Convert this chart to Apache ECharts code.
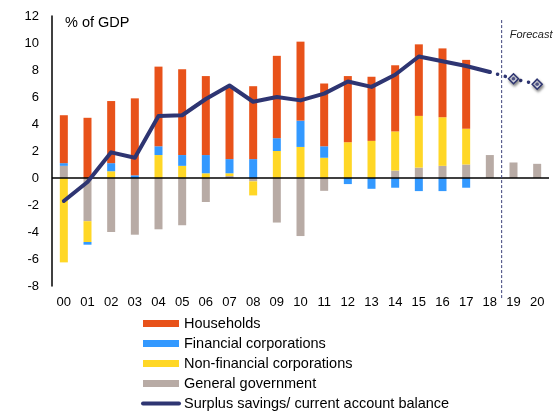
<!DOCTYPE html>
<html>
<head>
<meta charset="utf-8">
<script src="https://cdn.jsdelivr.net/npm/echarts@6/dist/echarts.min.js"></script>
<style>html,body{margin:0;padding:0;background:#fff}#c{width:554px;height:412px}</style>
</head>
<body>
<div id="c"></div>
<script>
var categories = ['00','01','02','03','04','05','06','07','08','09','10','11','12','13','14','15','16','17','18','19','20'];
var yTicks = {min: -8, max: 12, interval: 2};
var generalGovernment = [0.9, -3.2, -4.0, -4.2, -3.8, -3.5, -1.78, 0.15, -0.25, -3.3, -4.3, -0.95, 0, 0, 0.55, 0.77, 0.9, 1.0, 1.7, 1.15, 1.05];
var nonFinancial = [-6.25, -1.54, 0.5, 0, 1.7, 0.9, 0.35, 0.2, -1.04, 2.0, 2.3, 1.5, 2.65, 2.75, 2.9, 3.83, 3.6, 2.65, 0, 0, 0];
var financial = [0.2, -0.2, 0.6, 0.2, 0.65, 0.8, 1.35, 1.05, 1.4, 0.95, 1.95, 0.85, -0.45, -0.8, -0.72, -0.97, -0.97, -0.72, 0, 0, 0];
var households = [3.55, 4.46, 4.6, 5.7, 5.9, 6.35, 5.85, 5.35, 5.4, 6.1, 5.85, 4.65, 4.9, 4.75, 4.9, 5.3, 5.1, 5.1, 0, 0, 0];
var surplus = [-1.7, -0.3, 1.9, 1.5, 4.6, 4.65, 5.85, 6.85, 5.65, 6.0, 5.75, 6.25, 7.15, 6.75, 7.65, 9.0, 8.65, 8.3, 7.85, null, null];
var surplusForecast = [null, null, null, null, null, null, null, null, null, null, null, null, null, null, null, null, null, null, 7.85, 7.35, 6.95];
var forecastStartIndex = 18;

var FONT = "'Liberation Sans', Arial, sans-serif";
var C_HH = '#E8521A', C_FIN = '#3399FF', C_NF = '#FFD726', C_GOV = '#B8ABA5', C_LINE = '#2E3572';

var chart = echarts.init(document.getElementById('c'), null, {renderer: 'canvas'});

function nz(arr) { return arr.map(function (v) { return v === 0 ? '-' : v; }); }

var fcLine = surplusForecast.map(function (v, i) {
  if (v === null) return '-';
  if (i === forecastStartIndex) return {value: v, symbol: 'none'};
  return v;
});
var fcDots = surplusForecast.map(function (v, i) {
  return (v === null || i === forecastStartIndex) ? '-' : v;
});

var barW = 8;
var option = {
  animation: false,
  textStyle: {fontFamily: FONT},
  grid: {left: 52, right: 5, top: 16, bottom: 126, containLabel: false},
  legend: {
    orient: 'vertical', left: 141, top: 316, height: 140, padding: 0, itemWidth: 36, itemHeight: 7, itemGap: 5,
    textStyle: {fontFamily: FONT, fontSize: 14.5, color: '#000'},
    selectedMode: false,
    data: [
      {name: 'Households', icon: 'rect'},
      {name: 'Financial corporations', icon: 'rect'},
      {name: 'Non-financial corporations', icon: 'rect'},
      {name: 'General government', icon: 'rect'},
      {name: 'Surplus savings/ current account balance', itemStyle: {opacity: 0}, lineStyle: {width: 4, cap: 'round', color: C_LINE}}
    ]
  },
  xAxis: {
    type: 'category', data: categories,
    axisLine: {show: false}, axisTick: {show: false},
    axisLabel: {color: '#000', fontSize: 13, fontFamily: FONT, margin: 10, interval: 0}
  },
  yAxis: {
    type: 'value', min: yTicks.min, max: yTicks.max, interval: yTicks.interval,
    axisLine: {show: true, lineStyle: {color: '#000', width: 1.5}},
    axisTick: {show: false}, splitLine: {show: false},
    axisLabel: {color: '#000', fontSize: 13, fontFamily: FONT, margin: 13}
  },
  series: [
    {name: 'General government', type: 'bar', stack: 's', barWidth: barW, data: nz(generalGovernment), itemStyle: {color: C_GOV},
     markLine: {silent: true, symbol: 'none', label: {show: false}, lineStyle: {color: '#000', width: 1.5, type: 'solid'}, data: [{yAxis: 0}]}},
    {name: 'Non-financial corporations', type: 'bar', stack: 's', barWidth: barW, data: nz(nonFinancial), itemStyle: {color: C_NF}},
    {name: 'Financial corporations', type: 'bar', stack: 's', barWidth: barW, data: nz(financial), itemStyle: {color: C_FIN}},
    {name: 'Households', type: 'bar', stack: 's', barWidth: barW, data: nz(households), itemStyle: {color: C_HH}},
    {name: 'Surplus savings/ current account balance', type: 'line', data: surplus, symbol: 'none', z: 5,
     lineStyle: {color: C_LINE, width: 4, cap: 'round', join: 'round'}, itemStyle: {color: C_LINE}},
    {name: 'forecast', type: 'line', data: fcLine, z: 5, symbol: 'diamond', symbolSize: 10,
     lineStyle: {color: C_LINE, width: 3.5, type: [0.1, 7.9], cap: 'round'},
     itemStyle: {color: '#E4E5F0', borderColor: C_LINE, borderWidth: 1.5, shadowBlur: 3, shadowColor: 'rgba(0,0,0,0.45)', shadowOffsetX: 1, shadowOffsetY: 2}},
    {name: 'forecastDot', type: 'scatter', data: fcDots, symbol: 'circle', symbolSize: 3.5, z: 6, itemStyle: {color: C_LINE}}
  ]
};
chart.setOption(option);

var x18 = chart.convertToPixel({xAxisIndex: 0}, categories[forecastStartIndex]);
var x19 = chart.convertToPixel({xAxisIndex: 0}, categories[forecastStartIndex + 1]);
var xf = (x18 + x19) / 2;
var yTop = chart.convertToPixel({yAxisIndex: 0}, 11.7);
var yBot = chart.convertToPixel({yAxisIndex: 0}, -8.9);
chart.setOption({
  graphic: [
    {type: 'line', shape: {x1: xf, y1: yTop, x2: xf, y2: yBot}, style: {stroke: '#3B407A', lineWidth: 1, lineDash: [3, 2]}, z: 10},
    {type: 'text', x: xf + 8, y: yTop + 15, style: {text: 'Forecast', font: 'italic 11px ' + FONT, fill: '#222', verticalAlign: 'middle'}, z: 10},
    {type: 'text', left: 65, top: 15, style: {text: '% of GDP', font: '14.5px ' + FONT, fill: '#000'}, z: 10}
  ]
});
</script>
</body>
</html>
